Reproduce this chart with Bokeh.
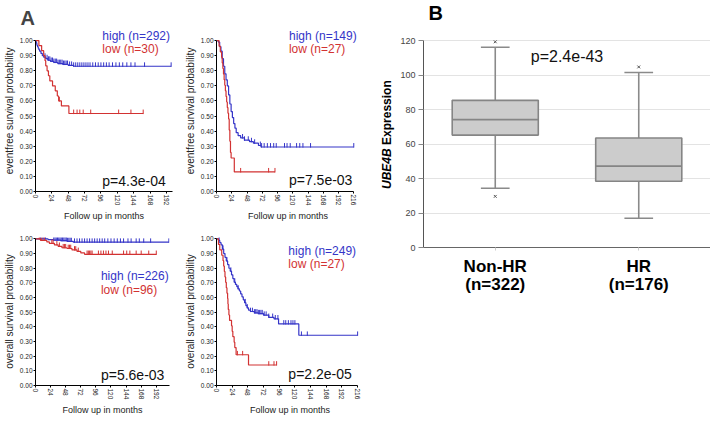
import math
import numpy as np
from bokeh.plotting import figure
from bokeh.layouts import row, column
from bokeh.models import Range1d, FixedTicker, NumeralTickFormatter, Label
from bokeh.embed import file_html
from bokeh.resources import INLINE

FONT = "Liberation Sans"
BLUE = "#3535c8"
RED = "#d23232"

# ---------------- data: panel A (Kaplan-Meier curves) ----------------
y_ticks = [0.0, 0.1, 0.2, 0.3, 0.4, 0.5, 0.6, 0.7, 0.8, 0.9, 1.0]
x_ticks_192 = [0, 24, 48, 72, 96, 120, 144, 168, 192]
x_ticks_216 = [0, 24, 48, 72, 96, 120, 144, 168, 192, 216]

# A1: event-free survival, high (n=292) vs low (n=30)
a1_high_t = [0, 1, 2, 3, 4, 5, 6, 8, 10, 12, 15, 18, 22, 27, 33, 40, 48, 56, 199]
a1_high_s = [1.0, 0.985, 0.97, 0.96, 0.95, 0.94, 0.93, 0.915, 0.9, 0.89, 0.88, 0.87, 0.862, 0.855, 0.848, 0.842, 0.836, 0.83, 0.83]
a1_high_c = [14, 17, 19, 21, 23, 25, 27, 29, 31, 33, 35, 37, 39, 41, 43, 45, 47, 50, 53, 56, 59, 62, 65, 68, 71, 74,
             77, 80, 84, 88, 92, 96, 100, 104, 108, 113, 118, 123, 128, 134, 140, 146, 160, 199]
a1_low_t = [0, 5, 9, 12, 14, 15, 17, 19, 21, 25, 29, 32, 34, 38, 49, 158]
a1_low_s = [1.0, 0.967, 0.933, 0.9, 0.867, 0.833, 0.8, 0.767, 0.733, 0.7, 0.667, 0.633, 0.6, 0.567, 0.517, 0.517]
a1_low_c = [35, 56, 61, 65, 70, 81, 122, 140, 158]

# A2: event-free survival, high (n=149) vs low (n=27)
a2_high_t = [0, 3, 5, 7, 9, 11, 13, 15, 17, 19, 21, 23, 25, 27, 29, 31, 34, 38, 44, 52, 58, 66, 70, 216]
a2_high_s = [1.0, 0.99, 0.96, 0.93, 0.88, 0.83, 0.78, 0.74, 0.70, 0.64, 0.58, 0.53, 0.49, 0.45, 0.42, 0.39, 0.37,
             0.355, 0.34, 0.33, 0.32, 0.305, 0.295, 0.295]
a2_high_c = [41, 44, 50, 55, 60, 69, 71, 75, 80, 85, 90, 94, 107, 111, 116, 126, 131, 136, 148, 216]
a2_low_t = [0, 4, 6, 8, 9, 10, 11, 12, 13, 14, 15, 16, 17, 18, 19, 20, 21, 22, 23, 28, 92]
a2_low_s = [1.0, 0.963, 0.926, 0.889, 0.852, 0.815, 0.778, 0.741, 0.704, 0.667, 0.63, 0.593, 0.556, 0.519, 0.481,
            0.407, 0.333, 0.259, 0.222, 0.13, 0.13]
a2_low_c = [38, 82, 92]

# A3: overall survival, high (n=226) vs low (n=96)
a3_high_t = [0, 20, 28, 40, 50, 60, 212]
a3_high_s = [1.0, 0.996, 0.992, 0.988, 0.984, 0.978, 0.978]
a3_high_c = [8, 12, 16, 29, 31, 33, 35, 37, 39, 41, 43, 45, 47, 49, 51, 53, 55, 57, 62, 66, 70, 74, 78, 82, 86, 90,
             94, 98, 102, 106, 110, 115, 120, 125, 130, 135, 140, 147, 152, 160, 165, 172, 183, 212]
a3_low_t = [0, 8, 18, 22, 30, 36, 42, 50, 58, 66, 72, 78, 192]
a3_low_s = [1.0, 0.99, 0.98, 0.97, 0.96, 0.95, 0.94, 0.935, 0.925, 0.915, 0.905, 0.895, 0.895]
a3_low_c = [6, 10, 14, 26, 28, 34, 38, 44, 46, 48, 52, 54, 56, 62, 64, 68, 82, 84, 86, 88, 90, 100, 104, 108, 112,
            116, 122, 140, 145, 150, 160, 168, 180, 192]

# A4: overall survival, high (n=249) vs low (n=27)
a4_high_t = [0, 3, 5, 7, 9, 11, 13, 15, 17, 19, 21, 23, 25, 27, 29, 31, 33, 35, 37, 39, 41, 43, 45, 47, 49, 52, 58,
             64, 72, 80, 88, 95, 126, 216]
a4_high_s = [1.0, 0.99, 0.975, 0.96, 0.93, 0.90, 0.875, 0.85, 0.825, 0.80, 0.78, 0.755, 0.73, 0.705, 0.69, 0.675,
             0.66, 0.645, 0.625, 0.605, 0.585, 0.565, 0.545, 0.53, 0.515, 0.505, 0.495, 0.49, 0.48, 0.465, 0.455,
             0.42, 0.343, 0.343]
a4_high_c = [4, 10, 16, 22, 28, 33, 44, 47, 52, 55, 58, 60, 62, 64, 66, 68, 70, 73, 76, 80, 86, 90, 94, 103, 106,
             110, 114, 117, 120, 130, 139, 216]
a4_low_t = [0, 3, 5, 8, 10, 11, 12, 13, 14, 15, 16, 17, 17.5, 18, 19, 20, 23, 24, 25, 27, 28, 30, 49, 92]
a4_low_s = [1.0, 0.963, 0.926, 0.889, 0.852, 0.815, 0.778, 0.741, 0.704, 0.667, 0.63, 0.593, 0.556, 0.519, 0.481,
            0.444, 0.407, 0.37, 0.333, 0.296, 0.259, 0.21, 0.14, 0.14]
a4_low_c = [32, 40, 80, 88, 92]

legend_high = ["high (n=292)", "high (n=149)", "high (n=226)", "high (n=249)"]
legend_low = ["low (n=30)", "low (n=27)", "low (n=96)", "low (n=27)"]
p_values = ["p=4.3e-04", "p=7.5e-03", "p=5.6e-03", "p=2.2e-05"]
y_labels = ["eventfree survival probability", "eventfree survival probability",
            "overall survival probability", "overall survival probability"]
x_label = "Follow up in months"

# ---------------- data: panel B (box plot) ----------------
groups = ["Non-HR", "HR"]
group_n = ["(n=322)", "(n=176)"]
group_x = [0.5, 1.5]
q1 = [65.3, 38.5]
median = [74.3, 47.3]
q3 = [85.5, 63.6]
whisker_lo = [34.4, 17.0]
whisker_hi = [116.3, 101.7]
outlier_x = [0.5, 0.5, 1.5]
outlier_y = [119.5, 29.7, 104.9]
b_ticks = [0, 20, 40, 60, 80, 100, 120]
b_pvalue = "p=2.4e-43"


def step_at(ts, ss, t):
    ts = np.asarray(ts, dtype=float)
    ss = np.asarray(ss, dtype=float)
    idx = np.searchsorted(ts, np.asarray(t, dtype=float), side="right") - 1
    return ss[idx]


def dlabel(p, text, x, y, size, color="#111111", style="normal", align="left", angle=0.0):
    p.add_layout(Label(x=x, y=y, text=text, text_font=FONT, text_font_size=size, text_color=color,
                       text_font_style=style, text_align=align, text_baseline="middle", angle=angle))


def km_panel(w, h, bl, bt, br, bb, xmax, ymax, xticks, ylabel, curves):
    p = figure(width=w, height=h, x_range=Range1d(0, xmax), y_range=Range1d(0, ymax),
               output_backend="svg", toolbar_location=None,
               min_border_left=bl, min_border_top=bt, min_border_right=br, min_border_bottom=bb)
    p.outline_line_color = None
    p.grid.visible = False
    for t, s, cens, color in curves:
        p.step(t, s, mode="after", line_color=color, line_width=1.2)
        cs = step_at(t, s, cens)
        p.segment(x0=list(cens), y0=list(cs - 0.004), x1=list(cens), y1=list(cs + 0.026),
                  line_color=color, line_width=1)
    xa = p.xaxis[0]
    ya = p.yaxis[0]
    xa.ticker = FixedTicker(ticks=xticks)
    xa.major_label_orientation = -math.pi / 2
    if xticks[-1] < xmax:
        xa.bounds = (0, max(xticks[-1], min(xmax, 216)))
    ya.ticker = FixedTicker(ticks=y_ticks)
    ya.formatter = NumeralTickFormatter(format="0.00")
    ya.bounds = (0, 1)
    for ax in (xa, ya):
        ax.axis_line_color = "black"
        ax.axis_line_width = 1
        ax.major_tick_line_color = "black"
        ax.major_tick_out = 2
        ax.major_tick_in = 0
        ax.minor_tick_line_color = None
        ax.major_label_text_font = FONT
        ax.major_label_text_font_size = "6.5px"
        ax.major_label_text_color = "#222222"
        ax.major_label_standoff = 1
        ax.axis_label_text_font = FONT
        ax.axis_label_text_font_style = "normal"
        ax.axis_label_text_color = "#222222"
    xa.axis_label = x_label
    xa.axis_label_text_font_size = "9px"
    xa.axis_label_standoff = 3
    ya.axis_label = ylabel
    ya.axis_label_text_font_size = "10px"
    ya.axis_label_standoff = 2
    return p


# panel A1
f1 = km_panel(181, 224, 27, 30, 9, 27, 201, 1.067, x_ticks_192, y_labels[0],
              [(a1_high_t, a1_high_s, a1_high_c, BLUE), (a1_low_t, a1_low_s, a1_low_c, RED)])
f1.xaxis[0].bounds = (0, 201)
dlabel(f1, legend_high[0], 98, 1.028, "12px", BLUE)
dlabel(f1, legend_low[0], 98, 0.944, "12px", RED)
dlabel(f1, p_values[0], 98, 0.068, "14px")
f1.title.text = "A"
f1.title.align = "left"
f1.title.offset = -15
f1.title.standoff = 3
f1.title.text_font = FONT
f1.title.text_font_size = "20px"
f1.title.text_font_style = "bold"

# panel A2 (frame reaches a little past 216 months so the legend text fits)
f2 = km_panel(195, 224, 27, 30, 17, 27, 225, 1.067, x_ticks_216, y_labels[1],
              [(a2_high_t, a2_high_s, a2_high_c, BLUE), (a2_low_t, a2_low_s, a2_low_c, RED)])
f2.xaxis[0].bounds = (0, 216)
dlabel(f2, legend_high[1], 114, 1.028, "12px", BLUE)
dlabel(f2, legend_low[1], 114, 0.944, "12px", RED)
dlabel(f2, p_values[1], 114, 0.074, "14px")

# panel A3
f3 = km_panel(181, 194, 26, 13, 12, 25, 213, 1.01, x_ticks_192, y_labels[2],
              [(a3_high_t, a3_high_s, a3_high_c, BLUE), (a3_low_t, a3_low_s, a3_low_c, RED)])
f3.xaxis[0].bounds = (0, 213)
dlabel(f3, legend_high[2], 104, 0.749, "12px", BLUE)
dlabel(f3, legend_low[2], 104, 0.652, "12px", RED)
dlabel(f3, p_values[2], 104, 0.075, "14px")

# panel A4
f4 = km_panel(195, 194, 28, 5, 13, 27, 225, 1.01, x_ticks_216, y_labels[3],
              [(a4_high_t, a4_high_s, a4_high_c, BLUE), (a4_low_t, a4_low_s, a4_low_c, RED)])
f4.xaxis[0].bounds = (0, 216)
dlabel(f4, legend_high[3], 110, 0.918, "12px", BLUE)
dlabel(f4, legend_low[3], 110, 0.828, "12px", RED)
dlabel(f4, p_values[3], 110, 0.076, "14px")

# ---------------- panel B ----------------
b_ymax = 143.5
# narrow strip that carries the two-style y-axis title of panel B
lab = figure(width=20, height=300, x_range=Range1d(0, 1), y_range=Range1d(0, b_ymax),
             x_axis_type=None, y_axis_type=None, output_backend="svg", toolbar_location=None,
             min_border_left=0, min_border_right=0, min_border_top=0, min_border_bottom=53)
lab.outline_line_color = None
lab.grid.visible = False
dlabel(lab, "UBE4B", 0.52, 34.0, "12px", "#000000", style="bold italic", angle=math.pi / 2)
dlabel(lab, "Expression", 0.52, 59.6, "12px", "#000000", style="bold", angle=math.pi / 2)

pb = figure(width=314, height=300, x_range=Range1d(0, 2), y_range=Range1d(0, b_ymax),
            output_backend="svg", toolbar_location=None,
            min_border_left=27, min_border_top=0, min_border_right=0, min_border_bottom=53)
pb.outline_line_color = None
pb.xgrid.visible = False
pb.ygrid.ticker = FixedTicker(ticks=b_ticks)
pb.ygrid.grid_line_color = "#e3e3e3"
pb.ygrid.grid_line_width = 1

box_w = 0.6
cap_w = 0.2
gx = np.array(group_x)
pb.segment(x0=group_x, y0=q3, x1=group_x, y1=whisker_hi, line_color="#8a8a8a", line_width=1.6)
pb.segment(x0=group_x, y0=q1, x1=group_x, y1=whisker_lo, line_color="#8a8a8a", line_width=1.6)
pb.segment(x0=list(gx - cap_w / 2), y0=whisker_hi, x1=list(gx + cap_w / 2), y1=whisker_hi,
           line_color="#8a8a8a", line_width=1.6)
pb.segment(x0=list(gx - cap_w / 2), y0=whisker_lo, x1=list(gx + cap_w / 2), y1=whisker_lo,
           line_color="#8a8a8a", line_width=1.6)
pb.vbar(x=group_x, width=box_w, bottom=q1, top=q3, fill_color="#cccccc", line_color="#858585", line_width=1.6)
pb.segment(x0=list(gx - box_w / 2), y0=median, x1=list(gx + box_w / 2), y1=median,
           line_color="#858585", line_width=1.6)
pb.scatter(outlier_x, outlier_y, marker="x", size=4, line_color="#555555", line_width=1)

ya = pb.yaxis[0]
ya.ticker = FixedTicker(ticks=b_ticks)
ya.bounds = (0, 120)
ya.axis_line_color = "#555555"
ya.major_tick_line_color = "#888888"
ya.major_tick_out = 5
ya.major_tick_in = 0
ya.minor_tick_line_color = None
ya.major_label_text_font = FONT
ya.major_label_text_font_size = "9px"
ya.major_label_text_color = "#444444"
ya.major_label_standoff = 3
xa = pb.xaxis[0]
xa.ticker = FixedTicker(ticks=group_x)
xa.major_label_overrides = {group_x[i]: groups[i] + "\n" + group_n[i] for i in range(len(groups))}
xa.major_label_text_font = FONT
xa.major_label_text_font_size = "17px"
xa.major_label_text_font_style = "bold"
xa.major_label_text_color = "#000000"
xa.major_label_text_line_height = 0.95
xa.major_label_standoff = 6
xa.axis_line_color = "#666666"
xa.major_tick_line_color = "#cccccc"
xa.major_tick_out = 3
xa.major_tick_in = 0
xa.minor_tick_line_color = None

dlabel(pb, b_pvalue, 1.0, 111, "16px", "#111111", align="center")
dlabel(pb, "B", 0.035, 136.5, "20px", "#000000", style="bold")

layout = row(column(row(f1, f2), row(f3, f4)), lab, pb)

with open("out.html", "w") as fh:
    fh.write(file_html(layout, INLINE))
